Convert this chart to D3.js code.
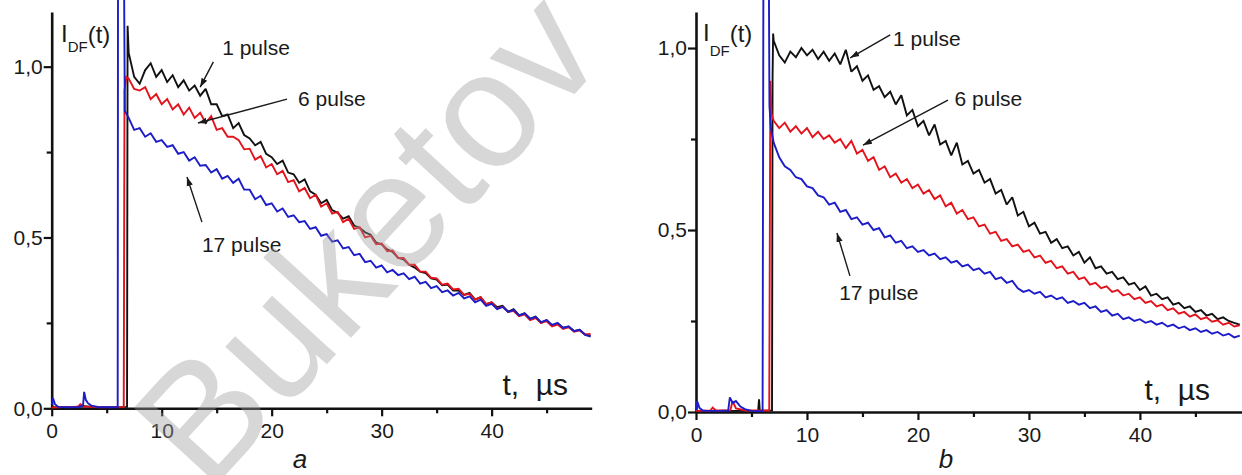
<!DOCTYPE html>
<html><head><meta charset="utf-8">
<script src="https://cdn.jsdelivr.net/npm/d3@7"></script>
<style>
html,body{margin:0;padding:0;background:#fff;}
svg{display:block;}
text{font-family:"Liberation Sans",Arial,sans-serif;}
</style></head><body>
<svg id="c" width="1242" height="475"></svg>
<script>
// ---------- DATA ----------
const tGrid = [7,7.5,8,8.5,9,9.5,10,10.5,11,11.5,12,12.5,13,13.5,14,14.5,15,15.5,16,16.5,17,17.5,18,18.5,19,19.5,20,20.5,21,21.5,22,22.5,23,23.5,24,24.5,25,25.5,26,26.5,27,27.5,28,28.5,29,29.5,30,30.5,31,31.5,32,32.5,33,33.5,34,34.5,35,35.5,36,36.5,37,37.5,38,38.5,39,39.5,40,40.5,41,41.5,42,42.5,43,43.5,44,44.5,45,45.5,46,46.5,47,47.5,48,48.5,49];

const xTicks = [0,10,20,30,40];
const xMinorTicks = [5,15,25,35,45];
const yTicks = [0,0.5,1.0];
const yTickLabels = ["0,0","0,5","1,0"];
const yMinorTicks = [0.25,0.75];
const seriesNames = ["1 pulse","6 pulse","17 pulse"];
const panelLabels = ["a","b"];
const watermarkText = "Buketov University";

// panel a – lead-in (before / at the flash)
const aBlackLeadT = [0,2,3,4,6.85,6.9];
const aBlackLeadV = [0.003,0.004,0.006,0.003,0.004,1.12];
const aRedLeadT = [0,1,2.4,2.6,3,4.5,6.55,6.62,6.78];
const aRedLeadV = [0.002,0.004,0.004,0.012,0.005,0.003,0.004,0.93,0.97];
const aBlueLeadT = [0,0.12,0.3,0.6,1.5,2.5,2.85,2.95,3.1,3.3,3.6,4.2,5,5.9,6.0,6.03,6.57,6.65];
const aBlueLeadV = [0.01,0.03,0.012,0.004,0.003,0.004,0.008,0.048,0.025,0.015,0.008,0.004,0.003,0.003,0.003,1.3,1.3,0.87];

// panel a – decay (on tGrid)
const aBlack = [1.04,0.97,0.95,0.99,1.01,0.97,0.99,0.955,0.975,0.94,
 0.96,0.93,0.945,0.915,0.935,0.89,0.89,0.855,0.86,0.82,
 0.835,0.80,0.79,0.77,0.78,0.745,0.735,0.715,0.725,0.69,
 0.685,0.66,0.67,0.635,0.625,0.60,0.61,0.58,0.572,0.555,
 0.562,0.535,0.528,0.515,0.508,0.485,0.48,0.465,0.458,0.44,
 0.436,0.42,0.412,0.40,0.396,0.38,0.377,0.36,0.362,0.345,
 0.345,0.332,0.338,0.318,0.325,0.305,0.31,0.296,0.30,0.283,
 0.29,0.272,0.278,0.262,0.268,0.25,0.258,0.242,0.248,0.236,
 0.238,0.226,0.23,0.216,0.212];
const aRed = [0.965,0.935,0.93,0.94,0.905,0.92,0.89,0.905,0.875,0.89,
 0.86,0.88,0.85,0.865,0.835,0.855,0.815,0.82,0.795,0.795,
 0.785,0.758,0.76,0.728,0.738,0.705,0.715,0.685,0.695,0.662,
 0.668,0.635,0.645,0.615,0.625,0.59,0.6,0.57,0.575,0.545,
 0.555,0.525,0.53,0.5,0.505,0.48,0.482,0.46,0.462,0.44,
 0.44,0.42,0.42,0.4,0.4,0.382,0.38,0.362,0.365,0.348,
 0.35,0.332,0.335,0.318,0.325,0.305,0.31,0.292,0.298,0.282,
 0.285,0.27,0.275,0.258,0.264,0.25,0.255,0.24,0.245,0.232,
 0.238,0.224,0.228,0.216,0.218];
const aBlue = [0.85,0.815,0.82,0.795,0.805,0.78,0.785,0.765,0.77,0.745,
 0.75,0.725,0.735,0.71,0.712,0.69,0.70,0.672,0.68,0.66,
 0.672,0.64,0.64,0.612,0.622,0.595,0.60,0.576,0.585,0.56,
 0.565,0.545,0.548,0.525,0.53,0.505,0.51,0.488,0.492,0.468,
 0.472,0.448,0.452,0.428,0.432,0.412,0.418,0.398,0.405,0.39,
 0.395,0.378,0.385,0.365,0.37,0.352,0.358,0.34,0.345,0.33,
 0.338,0.322,0.328,0.31,0.318,0.3,0.306,0.29,0.297,0.282,
 0.288,0.272,0.278,0.262,0.268,0.252,0.258,0.244,0.25,0.235,
 0.24,0.226,0.23,0.215,0.21];

// panel b – lead-in
const bBlackLeadT = [0,2,5.6,5.68,5.75,6.85,6.9,6.95];
const bBlackLeadV = [0.003,0.003,0.003,0.035,0.003,0.004,0.92,1.04];
const bRedLeadT = [0,1.3,1.5,1.8,3.1,3.3,3.6,4.5,6.6,6.7,6.8];
const bRedLeadV = [0.003,0.004,0.012,0.004,0.005,0.03,0.01,0.004,0.004,0.91,0.82];
const bBlueLeadT = [0,0.1,0.3,0.6,1,2,2.9,3.05,3.3,3.6,4,4.4,5,5.6,6.0,6.08,6.55,6.62,6.75];
const bBlueLeadV = [0.005,0.03,0.012,0.004,0.003,0.003,0.004,0.04,0.025,0.03,0.015,0.008,0.003,0.002,0.003,1.3,1.3,0.84,0.78];

// panel b – decay (on tGrid)
const bBlack = [1.02,0.98,0.96,0.99,0.975,1.0,0.98,0.995,0.97,0.99,
 0.965,0.985,0.955,0.995,0.935,0.95,0.91,0.925,0.885,0.895,
 0.865,0.88,0.845,0.87,0.815,0.83,0.785,0.80,0.76,0.79,
 0.735,0.745,0.705,0.74,0.68,0.69,0.655,0.665,0.63,0.64,
 0.60,0.61,0.57,0.59,0.54,0.55,0.51,0.52,0.49,0.495,
 0.465,0.475,0.45,0.455,0.43,0.44,0.41,0.425,0.395,0.40,
 0.38,0.385,0.365,0.37,0.35,0.355,0.335,0.345,0.32,0.325,
 0.31,0.315,0.295,0.30,0.285,0.29,0.275,0.28,0.265,0.27,
 0.255,0.26,0.25,0.245,0.24];
const bRed = [0.80,0.78,0.795,0.77,0.785,0.765,0.78,0.755,0.77,0.75,
 0.76,0.74,0.75,0.725,0.745,0.71,0.72,0.69,0.70,0.665,
 0.675,0.645,0.655,0.63,0.64,0.615,0.625,0.60,0.61,0.585,
 0.595,0.565,0.575,0.545,0.555,0.53,0.535,0.51,0.515,0.49,
 0.495,0.47,0.475,0.455,0.46,0.44,0.445,0.425,0.43,0.41,
 0.415,0.395,0.40,0.38,0.385,0.365,0.37,0.35,0.355,0.34,
 0.345,0.33,0.335,0.32,0.325,0.31,0.315,0.30,0.305,0.29,
 0.295,0.28,0.285,0.27,0.275,0.262,0.268,0.255,0.26,0.248,
 0.252,0.24,0.245,0.235,0.238];
const bBlue = [0.74,0.70,0.675,0.665,0.645,0.64,0.62,0.615,0.595,0.59,
 0.57,0.575,0.55,0.555,0.53,0.535,0.515,0.52,0.50,0.505,
 0.48,0.485,0.465,0.47,0.45,0.455,0.44,0.445,0.43,0.435,
 0.42,0.425,0.41,0.415,0.40,0.405,0.39,0.395,0.38,0.385,
 0.365,0.37,0.355,0.36,0.34,0.33,0.335,0.325,0.33,0.315,
 0.32,0.31,0.315,0.30,0.305,0.295,0.30,0.285,0.29,0.275,
 0.28,0.265,0.27,0.255,0.26,0.25,0.255,0.245,0.25,0.24,
 0.245,0.235,0.24,0.23,0.235,0.225,0.23,0.22,0.225,0.215,
 0.22,0.21,0.215,0.205,0.21];

// ---------- LAYOUT / STYLE ----------
const colors = ["#111111","#e3121b","#1c1cc8"];
const ink = "#1a1a1a";
const svg = d3.select("#c");
const defs = svg.append("defs");
defs.append("marker").attr("id","ah").attr("viewBox","0 0 10 10")
  .attr("refX",10).attr("refY",5).attr("markerWidth",9).attr("markerHeight",9)
  .attr("markerUnits","userSpaceOnUse").attr("orient","auto")
  .append("path").attr("d","M0,1.5L10,5L0,8.5Z").attr("fill",ink);

const panels = [
  {xr:[51.7,591.7], xMax:49.1, yr:[408.3,12], yMax:1.16,
   lead:[[aBlackLeadT,aBlackLeadV],[aRedLeadT,aRedLeadV],[aBlueLeadT,aBlueLeadV]],
   main:[aBlack,aRed,aBlue],
   ylab:{x:61,y:42,subDy:10,tDy:-9},
   tlab:{x:568,y:395},
   plab:{x:300,y:468},
   ann:[ {tx:15.5,ty:1.034, a:[14.7,1.014], b:[13.5,0.94]},
         {tx:22.4,ty:0.885, a:[21.4,0.905], b:[13.3,0.835]},
         {tx:13.66,ty:0.458, a:[13.66,0.545], b:[12.3,0.677]} ]},
  {xr:[696,1242], xMax:49.2, yr:[412,12], yMax:1.099,
   lead:[[bBlackLeadT,bBlackLeadV],[bRedLeadT,bRedLeadV],[bBlueLeadT,bBlueLeadV]],
   main:[bBlack,bRed,bBlue],
   ylab:{x:703,y:41,subDy:15,tDy:-14},
   tlab:{x:1210,y:400},
   plab:{x:946,y:468},
   ann:[ {tx:17.75,ty:1.005, a:[17.5,1.036], b:[13.9,0.973]},
         {tx:23.3,ty:0.84, a:[22.7,0.857], b:[15.05,0.733]},
         {tx:12.9,ty:0.308, a:[13.87,0.374], b:[12.7,0.492]} ]}
];

panels.forEach((p,pi)=>{
  const x = d3.scaleLinear().domain([0,p.xMax]).range(p.xr);
  const y = d3.scaleLinear().domain([0,p.yMax]).range(p.yr);
  const g = svg.append("g");

  // axes
  const xAxis = d3.axisBottom(x).tickValues(xTicks).tickSize(8).tickSizeOuter(0).tickPadding(7);
  const xa = g.append("g").attr("transform",`translate(0,${p.yr[0]})`).call(xAxis);
  const xm = g.append("g").attr("transform",`translate(0,${p.yr[0]})`)
    .call(d3.axisBottom(x).tickValues(xMinorTicks).tickSize(5).tickFormat(""));
  xm.select(".domain").remove();
  const yAxis = d3.axisLeft(y).tickValues(yTicks).tickFormat((d,i)=>yTickLabels[i])
    .tickSize(8).tickSizeOuter(0).tickPadding(1);
  const ya = g.append("g").attr("transform",`translate(${p.xr[0]},0)`).call(yAxis);
  const ym = g.append("g").attr("transform",`translate(${p.xr[0]},0)`)
    .call(d3.axisLeft(y).tickValues(yMinorTicks).tickSize(5).tickFormat(""));
  ym.select(".domain").remove();
  [xa,xm,ya,ym].forEach(a=>{
    a.selectAll(".domain").attr("stroke","#111").attr("stroke-width",2.6);
    a.selectAll(".tick line").attr("stroke","#111").attr("stroke-width",2.2);
    a.selectAll("text").attr("font-size",21).attr("fill",ink)
      .attr("font-family","Liberation Sans, Arial, sans-serif");
  });

  // curves
  const line = d3.line().x(d=>x(d[0])).y(d=>y(d[1]));
  p.main.forEach((vals,si)=>{
    const [lt,lv] = p.lead[si];
    const pts = lt.map((t,i)=>[t,lv[i]]).concat(tGrid.map((t,i)=>[t,vals[i]]));
    g.append("path").datum(pts).attr("d",line)
      .attr("fill","none").attr("stroke",colors[si]).attr("stroke-width",1.9)
      .attr("stroke-linejoin","miter").attr("stroke-miterlimit",2);
  });

  // annotations
  p.ann.forEach((a,i)=>{
    g.append("line").attr("x1",x(a.a[0])).attr("y1",y(a.a[1]))
      .attr("x2",x(a.b[0])).attr("y2",y(a.b[1]))
      .attr("stroke",ink).attr("stroke-width",1.4).attr("marker-end","url(#ah)");
    g.append("text").attr("x",x(a.tx)).attr("y",y(a.ty)).attr("font-size",21)
      .attr("fill",ink).text(seriesNames[i]);
  });

  // y label I_DF(t)
  const yl = g.append("text").attr("x",p.ylab.x).attr("y",p.ylab.y).attr("font-size",24).attr("fill",ink);
  yl.append("tspan").text("I");
  yl.append("tspan").attr("dy",p.ylab.subDy).attr("font-size",15).text("DF");
  yl.append("tspan").attr("dy",p.ylab.tDy).text("(t)");

  // x label
  g.append("text").attr("x",p.tlab.x).attr("y",p.tlab.y).attr("text-anchor","end")
    .attr("font-size",30).attr("fill",ink).text("t,\u00a0 \u00b5s");

  // panel letter
  g.append("text").attr("x",p.plab.x).attr("y",p.plab.y).attr("text-anchor","middle")
    .attr("font-family","Liberation Serif, Times New Roman, serif").attr("font-style","italic")
    .attr("font-size",26).attr("fill",ink).text(panelLabels[pi]);
});

// watermark
svg.append("text").attr("transform","translate(208,494) rotate(-47.5)")
  .attr("font-size",164).attr("fill","#9c9c9c").attr("opacity",0.4)
  .attr("font-family","Liberation Sans, Arial, sans-serif")
  .text(watermarkText);
</script>
</body></html>
